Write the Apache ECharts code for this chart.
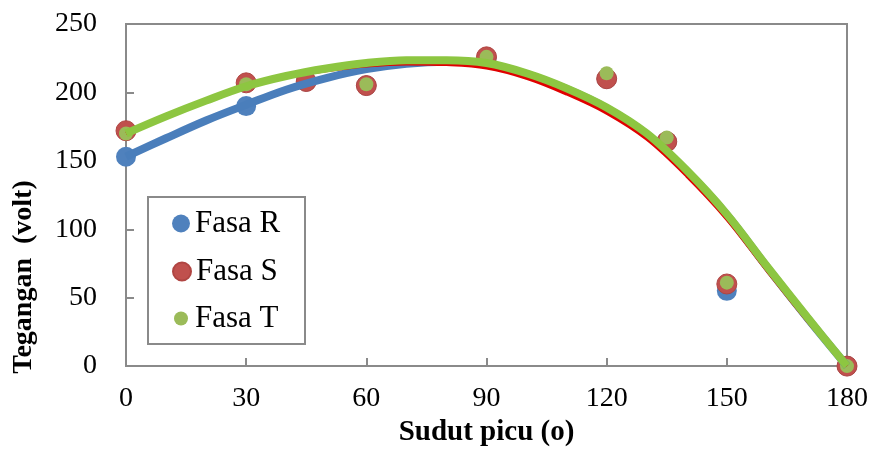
<!DOCTYPE html>
<html>
<head>
<meta charset="utf-8">
<script src="https://cdn.jsdelivr.net/npm/echarts@6/dist/echarts.min.js"></script>
<style>
html,body{margin:0;padding:0;background:#fff;}
#chart{width:871px;height:452px;}
</style>
</head>
<body>
<div id="chart"></div>
<script>
// ---- data ----
const angles = [0, 30, 45, 60, 90, 120, 135, 150, 180];
const fasaR = [153, 190, 208, 205, 225, 210, 164, 55, 0];
const fasaS = [172, 207, 208, 205, 226, 210, 164, 60, 0];
const fasaT = [170, 206, null, 206, 226, 214, 167, 61, 0];

// trend curves
const trendAngles = [0, 10, 20, 30, 40, 50, 60, 70, 80, 90, 100, 110, 120, 130, 140, 150, 160, 170, 180];
const trendR = [153, 166.5, 179.5, 191, 202, 210.5, 217, 221, 222.5, 221, 213.5, 202.5, 188.5, 169.5, 142.5, 110.5, 72.5, 35.5, 0];
const trendS = [170, 182, 193.5, 203.5, 211, 216, 219.5, 221, 220.5, 218, 210.5, 199, 185, 166, 139, 107.5, 70, 33.5, 0];
const trendT = [170, 182.5, 194, 204.5, 212, 217.5, 221.5, 223.5, 223.5, 221.5, 214, 203, 189, 170, 143, 111, 73, 36, 0];

const xTicks = [0, 180, 30];   // min, max, interval
const yTicks = [0, 250, 50];

const seriesNames = ['Fasa R', 'Fasa S', 'Fasa T'];

function pairs(xs, ys) {
  const out = [];
  xs.forEach((x, i) => { if (ys[i] !== null && ys[i] !== undefined) out.push([x, ys[i]]); });
  return out;
}

const FONT = '"Liberation Serif", "Times New Roman", serif';
const chart = echarts.init(document.getElementById('chart'), null, {renderer: 'canvas'});

const legendRowY = [224, 272, 319];
const legendIcon = [18, 18, 14];

const option = {
  animation: false,
  backgroundColor: '#fff',
  grid: {left: 126, right: 24, top: 24, bottom: 82, show: true, borderColor: '#8a8a8a', borderWidth: 2, backgroundColor: 'transparent'},
  xAxis: {
    type: 'value', min: xTicks[0], max: xTicks[1], interval: xTicks[2],
    name: 'Sudut picu (o)', nameLocation: 'middle', nameGap: 51,
    nameTextStyle: {fontFamily: FONT, fontWeight: 'bold', fontSize: 29, color: '#000'},
    axisLine: {show: true, lineStyle: {color: '#8a8a8a', width: 2}},
    axisTick: {show: true, inside: true, length: 8, lineStyle: {color: '#8a8a8a', width: 2}},
    axisLabel: {fontFamily: FONT, fontSize: 28, color: '#000', margin: 19},
    splitLine: {show: false}
  },
  yAxis: {
    type: 'value', min: yTicks[0], max: yTicks[1], interval: yTicks[2],
    axisLine: {show: true, lineStyle: {color: '#8a8a8a', width: 2}},
    axisTick: {show: true, inside: true, length: 8, lineStyle: {color: '#8a8a8a', width: 2}},
    axisLabel: {fontFamily: FONT, fontSize: 28, color: '#000', margin: 29},
    splitLine: {show: false}
  },
  graphic: [
    {type: 'rect', z: 3, shape: {x: 148, y: 197, width: 157, height: 147},
     style: {fill: '#fff', stroke: '#8a8a8a', lineWidth: 2}},
    {type: 'text', z: 3, x: 24, y: 277, rotation: Math.PI / 2,
     style: {text: 'Tegangan  (volt)', font: 'bold 28px ' + FONT, fill: '#000', align: 'center', verticalAlign: 'middle'}}
  ],
  legend: seriesNames.map((n, i) => ({
    data: [n], left: 172 + (18 - legendIcon[i]) / 2, top: legendRowY[i] - 16, padding: 0, z: 5,
    icon: 'circle', itemWidth: legendIcon[i], itemHeight: legendIcon[i], itemGap: 0,
    textStyle: {fontFamily: FONT, fontSize: 31, color: '#000', padding: [0, 0, 0, (18 - legendIcon[i]) / 2]}
  })),
  series: [
    {name: 'Fasa R', type: 'scatter', data: pairs(angles, fasaR), symbolSize: 20, z: 2,
     itemStyle: {color: '#4F81BD', opacity: 1}},
    {name: 'Fasa S', type: 'scatter', data: pairs(angles, fasaS), symbolSize: 20, z: 2,
     itemStyle: {color: '#C0504D', borderColor: '#B04542', borderWidth: 1, opacity: 1}},
    {name: 'Fasa T', type: 'scatter', data: pairs(angles, fasaT), symbolSize: 14, z: 2,
     itemStyle: {color: '#9BBB59', opacity: 1}},
    {name: 'trend R', type: 'line', data: pairs(trendAngles, trendR), smooth: 0.35, showSymbol: false, symbol: 'none', z: 3,
     lineStyle: {color: '#4A7EBB', width: 8}},
    {name: 'trend S', type: 'line', data: pairs(trendAngles, trendS), smooth: 0.35, showSymbol: false, symbol: 'none', z: 3,
     lineStyle: {color: '#E00000', width: 3.5}},
    {name: 'trend T', type: 'line', data: pairs(trendAngles, trendT), smooth: 0.35, showSymbol: false, symbol: 'none', z: 3,
     lineStyle: {color: '#8DC641', width: 8}}
  ]
};
chart.setOption(option);
</script>
</body>
</html>
